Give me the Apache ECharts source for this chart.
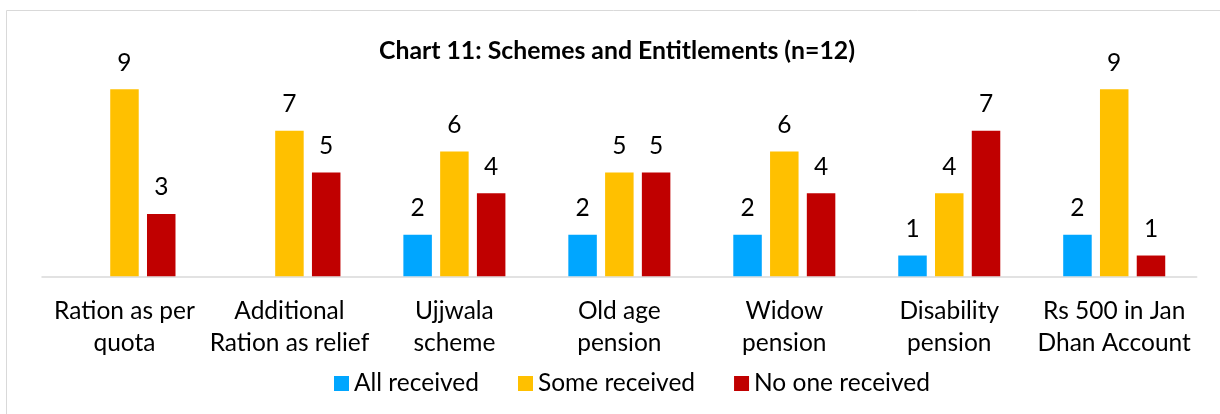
<!DOCTYPE html>
<html>
<head>
<meta charset="utf-8">
<script src="https://cdn.jsdelivr.net/npm/echarts@6/dist/echarts.min.js"></script>
<style>html,body{margin:0;padding:0;background:#fff}#c{width:1220px;height:414px}</style>
</head>
<body>
<div id="c"></div>
<script>
const categories = ["Ration as per\nquota", "Additional\nRation as relief", "Ujjwala\nscheme", "Old age\npension", "Widow\npension", "Disability\npension", "Rs 500 in Jan\nDhan Account"];
const allReceived = [null, null, 2, 2, 2, 1, 2];
const someReceived = [9, 7, 6, 5, 6, 4, 9];
const noOneReceived = [3, 5, 4, 5, 4, 7, 1];
const seriesNames = ["All received", "Some received", "No one received"];
const colors = ["#00A6FF", "#FFC000", "#C00000"];

const FONT = "Lato";
const chart = echarts.init(document.getElementById('c'), null, {renderer: 'canvas'});
const lbl = {show: true, position: 'top', distance: 14, color: '#000', fontFamily: FONT, fontSize: 24.5};
function mk(name, data, color) {
  return {name, type: 'bar', data, barWidth: 28.5, barGap: '29%',
    itemStyle: {color}, label: lbl, emphasis: {disabled: true}};
}
chart.setOption({
  animation: false,
  textStyle: {fontFamily: FONT},
  title: {text: 'Chart 11: Schemes and Entitlements (n=12)', left: 374, top: 34,
    textStyle: {fontFamily: FONT, fontWeight: 'bold', fontSize: 24.8, color: '#000'}},
  graphic: [{type: 'rect', shape: {x: 6.5, y: 10.5, width: 1230, height: 420},
    style: {fill: 'none', stroke: '#d9d9d9', lineWidth: 1}, silent: true, z: -1}],
  legend: {top: 366, left: 329, itemWidth: 15, itemHeight: 15, itemGap: 39,
    icon: 'rect', textStyle: {fontFamily: FONT, fontSize: 24.5, color: '#000'},
    data: seriesNames},
  grid: {left: 42, right: 23.3, top: 68.5, bottom: 137.7, containLabel: false},
  xAxis: {type: 'category', data: categories,
    axisLine: {lineStyle: {color: '#d9d9d9', width: 1.5}}, axisTick: {show: false},
    axisLabel: {interval: 0, color: '#000', fontFamily: FONT, fontSize: 24.5, lineHeight: 32, margin: 19}},
  yAxis: {type: 'value', min: 0, max: 10, show: false, splitLine: {show: false}},
  series: [mk(seriesNames[0], allReceived, colors[0]), mk(seriesNames[1], someReceived, colors[1]), mk(seriesNames[2], noOneReceived, colors[2])]
});
</script>
</body>
</html>
